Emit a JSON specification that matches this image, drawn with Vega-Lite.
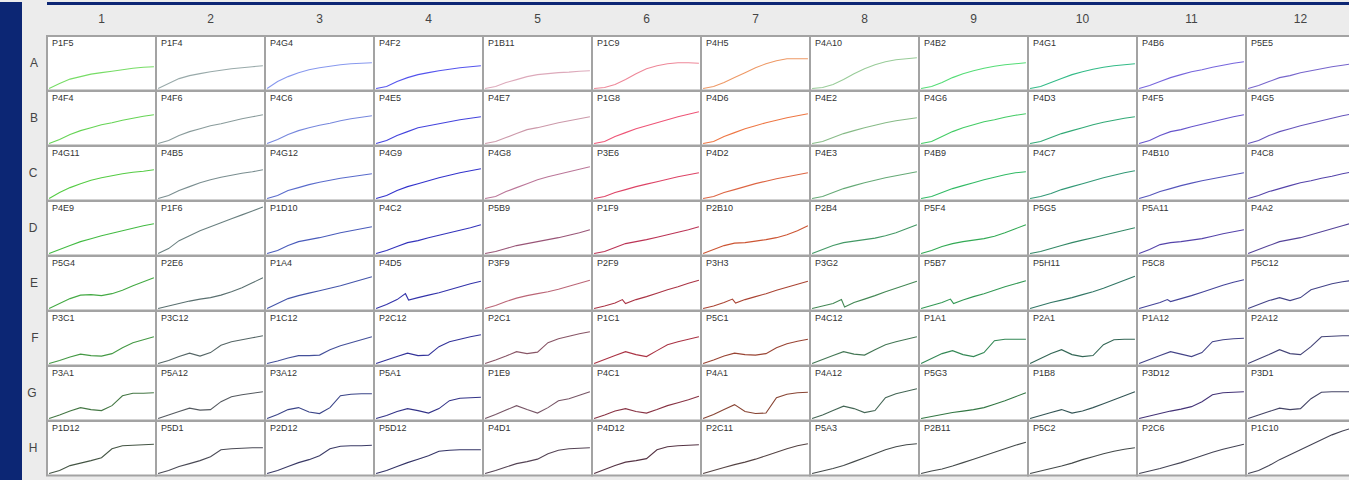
{
"$schema":"https://vega.github.io/schema/vega-lite/v6.json",
"background":"#ececec",
"padding":0,
"spacing":5,
"config":{"view":{"stroke":"#a3a3a3","strokeWidth":2,"fill":"#ffffff"},"font":"Liberation Sans"},
"datasets":{
"wells":[
{"w":"A1","r":"A","c":1,"n":"P1F5"},{"w":"A2","r":"A","c":2,"n":"P1F4"},{"w":"A3","r":"A","c":3,"n":"P4G4"},{"w":"A4","r":"A","c":4,"n":"P4F2"},{"w":"A5","r":"A","c":5,"n":"P1B11"},{"w":"A6","r":"A","c":6,"n":"P1C9"},{"w":"A7","r":"A","c":7,"n":"P4H5"},{"w":"A8","r":"A","c":8,"n":"P4A10"},{"w":"A9","r":"A","c":9,"n":"P4B2"},{"w":"A10","r":"A","c":10,"n":"P4G1"},{"w":"A11","r":"A","c":11,"n":"P4B6"},{"w":"A12","r":"A","c":12,"n":"P5E5"},
{"w":"B1","r":"B","c":1,"n":"P4F4"},{"w":"B2","r":"B","c":2,"n":"P4F6"},{"w":"B3","r":"B","c":3,"n":"P4C6"},{"w":"B4","r":"B","c":4,"n":"P4E5"},{"w":"B5","r":"B","c":5,"n":"P4E7"},{"w":"B6","r":"B","c":6,"n":"P1G8"},{"w":"B7","r":"B","c":7,"n":"P4D6"},{"w":"B8","r":"B","c":8,"n":"P4E2"},{"w":"B9","r":"B","c":9,"n":"P4G6"},{"w":"B10","r":"B","c":10,"n":"P4D3"},{"w":"B11","r":"B","c":11,"n":"P4F5"},{"w":"B12","r":"B","c":12,"n":"P4G5"},
{"w":"C1","r":"C","c":1,"n":"P4G11"},{"w":"C2","r":"C","c":2,"n":"P4B5"},{"w":"C3","r":"C","c":3,"n":"P4G12"},{"w":"C4","r":"C","c":4,"n":"P4G9"},{"w":"C5","r":"C","c":5,"n":"P4G8"},{"w":"C6","r":"C","c":6,"n":"P3E6"},{"w":"C7","r":"C","c":7,"n":"P4D2"},{"w":"C8","r":"C","c":8,"n":"P4E3"},{"w":"C9","r":"C","c":9,"n":"P4B9"},{"w":"C10","r":"C","c":10,"n":"P4C7"},{"w":"C11","r":"C","c":11,"n":"P4B10"},{"w":"C12","r":"C","c":12,"n":"P4C8"},
{"w":"D1","r":"D","c":1,"n":"P4E9"},{"w":"D2","r":"D","c":2,"n":"P1F6"},{"w":"D3","r":"D","c":3,"n":"P1D10"},{"w":"D4","r":"D","c":4,"n":"P4C2"},{"w":"D5","r":"D","c":5,"n":"P5B9"},{"w":"D6","r":"D","c":6,"n":"P1F9"},{"w":"D7","r":"D","c":7,"n":"P2B10"},{"w":"D8","r":"D","c":8,"n":"P2B4"},{"w":"D9","r":"D","c":9,"n":"P5F4"},{"w":"D10","r":"D","c":10,"n":"P5G5"},{"w":"D11","r":"D","c":11,"n":"P5A11"},{"w":"D12","r":"D","c":12,"n":"P4A2"},
{"w":"E1","r":"E","c":1,"n":"P5G4"},{"w":"E2","r":"E","c":2,"n":"P2E6"},{"w":"E3","r":"E","c":3,"n":"P1A4"},{"w":"E4","r":"E","c":4,"n":"P4D5"},{"w":"E5","r":"E","c":5,"n":"P3F9"},{"w":"E6","r":"E","c":6,"n":"P2F9"},{"w":"E7","r":"E","c":7,"n":"P3H3"},{"w":"E8","r":"E","c":8,"n":"P3G2"},{"w":"E9","r":"E","c":9,"n":"P5B7"},{"w":"E10","r":"E","c":10,"n":"P5H11"},{"w":"E11","r":"E","c":11,"n":"P5C8"},{"w":"E12","r":"E","c":12,"n":"P5C12"},
{"w":"F1","r":"F","c":1,"n":"P3C1"},{"w":"F2","r":"F","c":2,"n":"P3C12"},{"w":"F3","r":"F","c":3,"n":"P1C12"},{"w":"F4","r":"F","c":4,"n":"P2C12"},{"w":"F5","r":"F","c":5,"n":"P2C1"},{"w":"F6","r":"F","c":6,"n":"P1C1"},{"w":"F7","r":"F","c":7,"n":"P5C1"},{"w":"F8","r":"F","c":8,"n":"P4C12"},{"w":"F9","r":"F","c":9,"n":"P1A1"},{"w":"F10","r":"F","c":10,"n":"P2A1"},{"w":"F11","r":"F","c":11,"n":"P1A12"},{"w":"F12","r":"F","c":12,"n":"P2A12"},
{"w":"G1","r":"G","c":1,"n":"P3A1"},{"w":"G2","r":"G","c":2,"n":"P5A12"},{"w":"G3","r":"G","c":3,"n":"P3A12"},{"w":"G4","r":"G","c":4,"n":"P5A1"},{"w":"G5","r":"G","c":5,"n":"P1E9"},{"w":"G6","r":"G","c":6,"n":"P4C1"},{"w":"G7","r":"G","c":7,"n":"P4A1"},{"w":"G8","r":"G","c":8,"n":"P4A12"},{"w":"G9","r":"G","c":9,"n":"P5G3"},{"w":"G10","r":"G","c":10,"n":"P1B8"},{"w":"G11","r":"G","c":11,"n":"P3D12"},{"w":"G12","r":"G","c":12,"n":"P3D1"},
{"w":"H1","r":"H","c":1,"n":"P1D12"},{"w":"H2","r":"H","c":2,"n":"P5D1"},{"w":"H3","r":"H","c":3,"n":"P2D12"},{"w":"H4","r":"H","c":4,"n":"P5D12"},{"w":"H5","r":"H","c":5,"n":"P4D1"},{"w":"H6","r":"H","c":6,"n":"P4D12"},{"w":"H7","r":"H","c":7,"n":"P2C11"},{"w":"H8","r":"H","c":8,"n":"P5A3"},{"w":"H9","r":"H","c":9,"n":"P2B11"},{"w":"H10","r":"H","c":10,"n":"P5C2"},{"w":"H11","r":"H","c":11,"n":"P2C6"},{"w":"H12","r":"H","c":12,"n":"P1C10"}
],
"pts":[
{"w":"A1","t":0,"v":1},{"w":"A1","t":1,"v":6},{"w":"A1","t":2,"v":10.5},{"w":"A1","t":3,"v":13},{"w":"A1","t":4,"v":15.5},{"w":"A1","t":5,"v":17},{"w":"A1","t":6,"v":18.5},{"w":"A1","t":7,"v":20},{"w":"A1","t":8,"v":21.5},{"w":"A1","t":9,"v":22.5},{"w":"A1","t":10,"v":23},
{"w":"A2","t":0,"v":1},{"w":"A2","t":1,"v":6},{"w":"A2","t":2,"v":11},{"w":"A2","t":3,"v":14},{"w":"A2","t":4,"v":16},{"w":"A2","t":5,"v":18},{"w":"A2","t":6,"v":19.5},{"w":"A2","t":7,"v":21},{"w":"A2","t":8,"v":22},{"w":"A2","t":9,"v":23},{"w":"A2","t":10,"v":24},
{"w":"A3","t":0,"v":1},{"w":"A3","t":1,"v":8},{"w":"A3","t":2,"v":13},{"w":"A3","t":3,"v":17},{"w":"A3","t":4,"v":20},{"w":"A3","t":5,"v":22},{"w":"A3","t":6,"v":23.5},{"w":"A3","t":7,"v":25},{"w":"A3","t":8,"v":26},{"w":"A3","t":9,"v":26.5},{"w":"A3","t":10,"v":27},
{"w":"A4","t":0,"v":1},{"w":"A4","t":1,"v":3},{"w":"A4","t":2,"v":8},{"w":"A4","t":3,"v":12},{"w":"A4","t":4,"v":15},{"w":"A4","t":5,"v":17},{"w":"A4","t":6,"v":19},{"w":"A4","t":7,"v":20.5},{"w":"A4","t":8,"v":22},{"w":"A4","t":9,"v":23},{"w":"A4","t":10,"v":24},
{"w":"A5","t":0,"v":1},{"w":"A5","t":1,"v":3},{"w":"A5","t":2,"v":7},{"w":"A5","t":3,"v":10},{"w":"A5","t":4,"v":13},{"w":"A5","t":5,"v":15},{"w":"A5","t":6,"v":16},{"w":"A5","t":7,"v":17},{"w":"A5","t":8,"v":17.5},{"w":"A5","t":9,"v":18.5},{"w":"A5","t":10,"v":19},
{"w":"A6","t":0,"v":1},{"w":"A6","t":1,"v":2},{"w":"A6","t":2,"v":5},{"w":"A6","t":3,"v":10},{"w":"A6","t":4,"v":16},{"w":"A6","t":5,"v":21},{"w":"A6","t":6,"v":24},{"w":"A6","t":7,"v":26},{"w":"A6","t":8,"v":27},{"w":"A6","t":9,"v":27},{"w":"A6","t":10,"v":26.5},
{"w":"A7","t":0,"v":1},{"w":"A7","t":1,"v":3},{"w":"A7","t":2,"v":7},{"w":"A7","t":3,"v":12},{"w":"A7","t":4,"v":17},{"w":"A7","t":5,"v":22},{"w":"A7","t":6,"v":26},{"w":"A7","t":7,"v":29},{"w":"A7","t":8,"v":31},{"w":"A7","t":9,"v":31},{"w":"A7","t":10,"v":31},
{"w":"A8","t":0,"v":1},{"w":"A8","t":1,"v":2},{"w":"A8","t":2,"v":5},{"w":"A8","t":3,"v":10},{"w":"A8","t":4,"v":16},{"w":"A8","t":5,"v":21},{"w":"A8","t":6,"v":25},{"w":"A8","t":7,"v":28},{"w":"A8","t":8,"v":30},{"w":"A8","t":9,"v":31},{"w":"A8","t":10,"v":32},
{"w":"A9","t":0,"v":1},{"w":"A9","t":1,"v":3},{"w":"A9","t":2,"v":7},{"w":"A9","t":3,"v":12},{"w":"A9","t":4,"v":16},{"w":"A9","t":5,"v":19},{"w":"A9","t":6,"v":21.5},{"w":"A9","t":7,"v":23.5},{"w":"A9","t":8,"v":25},{"w":"A9","t":9,"v":26},{"w":"A9","t":10,"v":27},
{"w":"A10","t":0,"v":1},{"w":"A10","t":1,"v":3},{"w":"A10","t":2,"v":7},{"w":"A10","t":3,"v":11},{"w":"A10","t":4,"v":15},{"w":"A10","t":5,"v":18},{"w":"A10","t":6,"v":20.5},{"w":"A10","t":7,"v":22.5},{"w":"A10","t":8,"v":24},{"w":"A10","t":9,"v":25},{"w":"A10","t":10,"v":26},
{"w":"A11","t":0,"v":1},{"w":"A11","t":1,"v":4},{"w":"A11","t":2,"v":8},{"w":"A11","t":3,"v":12},{"w":"A11","t":4,"v":15},{"w":"A11","t":5,"v":18},{"w":"A11","t":6,"v":20},{"w":"A11","t":7,"v":22.5},{"w":"A11","t":8,"v":24.5},{"w":"A11","t":9,"v":26.5},{"w":"A11","t":10,"v":28},
{"w":"A12","t":0,"v":1},{"w":"A12","t":1,"v":4},{"w":"A12","t":2,"v":8},{"w":"A12","t":3,"v":12},{"w":"A12","t":4,"v":14},{"w":"A12","t":5,"v":17},{"w":"A12","t":6,"v":19},{"w":"A12","t":7,"v":21},{"w":"A12","t":8,"v":23},{"w":"A12","t":9,"v":24.5},{"w":"A12","t":10,"v":26},
{"w":"B1","t":0,"v":1},{"w":"B1","t":1,"v":5},{"w":"B1","t":2,"v":10},{"w":"B1","t":3,"v":14},{"w":"B1","t":4,"v":17},{"w":"B1","t":5,"v":20},{"w":"B1","t":6,"v":22},{"w":"B1","t":7,"v":24.5},{"w":"B1","t":8,"v":26.5},{"w":"B1","t":9,"v":28.5},{"w":"B1","t":10,"v":30},
{"w":"B2","t":0,"v":1},{"w":"B2","t":1,"v":4},{"w":"B2","t":2,"v":9},{"w":"B2","t":3,"v":13},{"w":"B2","t":4,"v":16},{"w":"B2","t":5,"v":19},{"w":"B2","t":6,"v":21},{"w":"B2","t":7,"v":23.5},{"w":"B2","t":8,"v":26},{"w":"B2","t":9,"v":28},{"w":"B2","t":10,"v":30},
{"w":"B3","t":0,"v":1},{"w":"B3","t":1,"v":5},{"w":"B3","t":2,"v":10},{"w":"B3","t":3,"v":14},{"w":"B3","t":4,"v":17},{"w":"B3","t":5,"v":19.5},{"w":"B3","t":6,"v":21.5},{"w":"B3","t":7,"v":24},{"w":"B3","t":8,"v":26},{"w":"B3","t":9,"v":27.5},{"w":"B3","t":10,"v":29},
{"w":"B4","t":0,"v":1},{"w":"B4","t":1,"v":4},{"w":"B4","t":2,"v":9},{"w":"B4","t":3,"v":13},{"w":"B4","t":4,"v":17},{"w":"B4","t":5,"v":19},{"w":"B4","t":6,"v":21},{"w":"B4","t":7,"v":23},{"w":"B4","t":8,"v":25},{"w":"B4","t":9,"v":26.5},{"w":"B4","t":10,"v":28},
{"w":"B5","t":0,"v":1},{"w":"B5","t":1,"v":3},{"w":"B5","t":2,"v":7},{"w":"B5","t":3,"v":11},{"w":"B5","t":4,"v":15},{"w":"B5","t":5,"v":17},{"w":"B5","t":6,"v":19.5},{"w":"B5","t":7,"v":22},{"w":"B5","t":8,"v":24},{"w":"B5","t":9,"v":26},{"w":"B5","t":10,"v":28},
{"w":"B6","t":0,"v":1},{"w":"B6","t":1,"v":3},{"w":"B6","t":2,"v":8},{"w":"B6","t":3,"v":12},{"w":"B6","t":4,"v":16},{"w":"B6","t":5,"v":19},{"w":"B6","t":6,"v":22},{"w":"B6","t":7,"v":25},{"w":"B6","t":8,"v":28},{"w":"B6","t":9,"v":30.5},{"w":"B6","t":10,"v":33},
{"w":"B7","t":0,"v":1},{"w":"B7","t":1,"v":3},{"w":"B7","t":2,"v":8},{"w":"B7","t":3,"v":12},{"w":"B7","t":4,"v":16},{"w":"B7","t":5,"v":19},{"w":"B7","t":6,"v":22},{"w":"B7","t":7,"v":24.5},{"w":"B7","t":8,"v":27},{"w":"B7","t":9,"v":29},{"w":"B7","t":10,"v":31},
{"w":"B8","t":0,"v":1},{"w":"B8","t":1,"v":3},{"w":"B8","t":2,"v":7},{"w":"B8","t":3,"v":11},{"w":"B8","t":4,"v":14},{"w":"B8","t":5,"v":17},{"w":"B8","t":6,"v":19.5},{"w":"B8","t":7,"v":22},{"w":"B8","t":8,"v":24},{"w":"B8","t":9,"v":25.5},{"w":"B8","t":10,"v":27},
{"w":"B9","t":0,"v":1},{"w":"B9","t":1,"v":3},{"w":"B9","t":2,"v":8},{"w":"B9","t":3,"v":13},{"w":"B9","t":4,"v":17},{"w":"B9","t":5,"v":20},{"w":"B9","t":6,"v":23},{"w":"B9","t":7,"v":25},{"w":"B9","t":8,"v":27.5},{"w":"B9","t":9,"v":29.5},{"w":"B9","t":10,"v":31},
{"w":"B10","t":0,"v":1},{"w":"B10","t":1,"v":3},{"w":"B10","t":2,"v":7},{"w":"B10","t":3,"v":11},{"w":"B10","t":4,"v":14},{"w":"B10","t":5,"v":17},{"w":"B10","t":6,"v":20},{"w":"B10","t":7,"v":22.5},{"w":"B10","t":8,"v":24.5},{"w":"B10","t":9,"v":26.5},{"w":"B10","t":10,"v":28},
{"w":"B11","t":0,"v":1},{"w":"B11","t":1,"v":4},{"w":"B11","t":2,"v":9},{"w":"B11","t":3,"v":13},{"w":"B11","t":4,"v":15},{"w":"B11","t":5,"v":18},{"w":"B11","t":6,"v":20.5},{"w":"B11","t":7,"v":23},{"w":"B11","t":8,"v":25.5},{"w":"B11","t":9,"v":28},{"w":"B11","t":10,"v":30},
{"w":"B12","t":0,"v":1},{"w":"B12","t":1,"v":4},{"w":"B12","t":2,"v":9},{"w":"B12","t":3,"v":13},{"w":"B12","t":4,"v":16},{"w":"B12","t":5,"v":19},{"w":"B12","t":6,"v":21.5},{"w":"B12","t":7,"v":24},{"w":"B12","t":8,"v":26.5},{"w":"B12","t":9,"v":29},{"w":"B12","t":10,"v":31},
{"w":"C1","t":0,"v":1},{"w":"C1","t":1,"v":7},{"w":"C1","t":2,"v":12},{"w":"C1","t":3,"v":16},{"w":"C1","t":4,"v":19.5},{"w":"C1","t":5,"v":22},{"w":"C1","t":6,"v":24},{"w":"C1","t":7,"v":26},{"w":"C1","t":8,"v":27.5},{"w":"C1","t":9,"v":28.5},{"w":"C1","t":10,"v":30},
{"w":"C2","t":0,"v":1},{"w":"C2","t":1,"v":4},{"w":"C2","t":2,"v":9},{"w":"C2","t":3,"v":13},{"w":"C2","t":4,"v":17},{"w":"C2","t":5,"v":20},{"w":"C2","t":6,"v":22.5},{"w":"C2","t":7,"v":24.5},{"w":"C2","t":8,"v":26.5},{"w":"C2","t":9,"v":28},{"w":"C2","t":10,"v":30},
{"w":"C3","t":0,"v":1},{"w":"C3","t":1,"v":4},{"w":"C3","t":2,"v":9},{"w":"C3","t":3,"v":12},{"w":"C3","t":4,"v":15},{"w":"C3","t":5,"v":17.5},{"w":"C3","t":6,"v":19.5},{"w":"C3","t":7,"v":21.5},{"w":"C3","t":8,"v":23},{"w":"C3","t":9,"v":24.5},{"w":"C3","t":10,"v":26},
{"w":"C4","t":0,"v":1},{"w":"C4","t":1,"v":4},{"w":"C4","t":2,"v":9},{"w":"C4","t":3,"v":13},{"w":"C4","t":4,"v":16},{"w":"C4","t":5,"v":19},{"w":"C4","t":6,"v":22},{"w":"C4","t":7,"v":24.5},{"w":"C4","t":8,"v":27},{"w":"C4","t":9,"v":29},{"w":"C4","t":10,"v":31},
{"w":"C5","t":0,"v":1},{"w":"C5","t":1,"v":3},{"w":"C5","t":2,"v":8},{"w":"C5","t":3,"v":12},{"w":"C5","t":4,"v":16},{"w":"C5","t":5,"v":20},{"w":"C5","t":6,"v":23},{"w":"C5","t":7,"v":25.5},{"w":"C5","t":8,"v":28},{"w":"C5","t":9,"v":30.5},{"w":"C5","t":10,"v":33},
{"w":"C6","t":0,"v":1},{"w":"C6","t":1,"v":3},{"w":"C6","t":2,"v":7},{"w":"C6","t":3,"v":10},{"w":"C6","t":4,"v":13},{"w":"C6","t":5,"v":15.5},{"w":"C6","t":6,"v":18},{"w":"C6","t":7,"v":20.5},{"w":"C6","t":8,"v":23},{"w":"C6","t":9,"v":25},{"w":"C6","t":10,"v":27},
{"w":"C7","t":0,"v":1},{"w":"C7","t":1,"v":3},{"w":"C7","t":2,"v":7},{"w":"C7","t":3,"v":10},{"w":"C7","t":4,"v":13},{"w":"C7","t":5,"v":16},{"w":"C7","t":6,"v":18.5},{"w":"C7","t":7,"v":21},{"w":"C7","t":8,"v":23},{"w":"C7","t":9,"v":25},{"w":"C7","t":10,"v":27},
{"w":"C8","t":0,"v":1},{"w":"C8","t":1,"v":3},{"w":"C8","t":2,"v":7},{"w":"C8","t":3,"v":11},{"w":"C8","t":4,"v":14},{"w":"C8","t":5,"v":17},{"w":"C8","t":6,"v":19.5},{"w":"C8","t":7,"v":22},{"w":"C8","t":8,"v":24},{"w":"C8","t":9,"v":26},{"w":"C8","t":10,"v":28},
{"w":"C9","t":0,"v":1},{"w":"C9","t":1,"v":3},{"w":"C9","t":2,"v":7},{"w":"C9","t":3,"v":11},{"w":"C9","t":4,"v":14},{"w":"C9","t":5,"v":17},{"w":"C9","t":6,"v":20},{"w":"C9","t":7,"v":22.5},{"w":"C9","t":8,"v":25},{"w":"C9","t":9,"v":27},{"w":"C9","t":10,"v":28},
{"w":"C10","t":0,"v":1},{"w":"C10","t":1,"v":3},{"w":"C10","t":2,"v":6},{"w":"C10","t":3,"v":10},{"w":"C10","t":4,"v":13},{"w":"C10","t":5,"v":16},{"w":"C10","t":6,"v":19},{"w":"C10","t":7,"v":22},{"w":"C10","t":8,"v":24.5},{"w":"C10","t":9,"v":27},{"w":"C10","t":10,"v":29},
{"w":"C11","t":0,"v":1},{"w":"C11","t":1,"v":4},{"w":"C11","t":2,"v":8},{"w":"C11","t":3,"v":11},{"w":"C11","t":4,"v":14},{"w":"C11","t":5,"v":16.5},{"w":"C11","t":6,"v":19},{"w":"C11","t":7,"v":21},{"w":"C11","t":8,"v":23},{"w":"C11","t":9,"v":25},{"w":"C11","t":10,"v":27},
{"w":"C12","t":0,"v":1},{"w":"C12","t":1,"v":4},{"w":"C12","t":2,"v":8},{"w":"C12","t":3,"v":11},{"w":"C12","t":4,"v":14},{"w":"C12","t":5,"v":17},{"w":"C12","t":6,"v":19},{"w":"C12","t":7,"v":21.5},{"w":"C12","t":8,"v":23.5},{"w":"C12","t":9,"v":26},{"w":"C12","t":10,"v":28},
{"w":"D1","t":0,"v":1},{"w":"D1","t":1,"v":5},{"w":"D1","t":2,"v":9},{"w":"D1","t":3,"v":13},{"w":"D1","t":4,"v":16},{"w":"D1","t":5,"v":19},{"w":"D1","t":6,"v":21.5},{"w":"D1","t":7,"v":24},{"w":"D1","t":8,"v":26.5},{"w":"D1","t":9,"v":29},{"w":"D1","t":10,"v":31},
{"w":"D2","t":0,"v":1},{"w":"D2","t":1,"v":6},{"w":"D2","t":2,"v":14},{"w":"D2","t":3,"v":19},{"w":"D2","t":4,"v":24},{"w":"D2","t":5,"v":28},{"w":"D2","t":6,"v":32},{"w":"D2","t":7,"v":36},{"w":"D2","t":8,"v":40},{"w":"D2","t":9,"v":44},{"w":"D2","t":10,"v":48},
{"w":"D3","t":0,"v":1},{"w":"D3","t":1,"v":4},{"w":"D3","t":2,"v":9},{"w":"D3","t":3,"v":13},{"w":"D3","t":4,"v":15},{"w":"D3","t":5,"v":17},{"w":"D3","t":6,"v":19.5},{"w":"D3","t":7,"v":22},{"w":"D3","t":8,"v":24},{"w":"D3","t":9,"v":26},{"w":"D3","t":10,"v":28},
{"w":"D4","t":0,"v":1},{"w":"D4","t":1,"v":4},{"w":"D4","t":2,"v":8},{"w":"D4","t":3,"v":12},{"w":"D4","t":4,"v":14},{"w":"D4","t":5,"v":17},{"w":"D4","t":6,"v":19.5},{"w":"D4","t":7,"v":22},{"w":"D4","t":8,"v":24.5},{"w":"D4","t":9,"v":27},{"w":"D4","t":10,"v":30},
{"w":"D5","t":0,"v":1},{"w":"D5","t":1,"v":3},{"w":"D5","t":2,"v":6},{"w":"D5","t":3,"v":9},{"w":"D5","t":4,"v":11},{"w":"D5","t":5,"v":13},{"w":"D5","t":6,"v":15},{"w":"D5","t":7,"v":17},{"w":"D5","t":8,"v":19.5},{"w":"D5","t":9,"v":22},{"w":"D5","t":10,"v":25},
{"w":"D6","t":0,"v":1},{"w":"D6","t":1,"v":3},{"w":"D6","t":2,"v":7},{"w":"D6","t":3,"v":11},{"w":"D6","t":4,"v":13},{"w":"D6","t":5,"v":15},{"w":"D6","t":6,"v":17.5},{"w":"D6","t":7,"v":20},{"w":"D6","t":8,"v":22.5},{"w":"D6","t":9,"v":25},{"w":"D6","t":10,"v":28},
{"w":"D7","t":0,"v":1},{"w":"D7","t":1,"v":5},{"w":"D7","t":2,"v":9},{"w":"D7","t":3,"v":11.5},{"w":"D7","t":4,"v":12},{"w":"D7","t":5,"v":13.5},{"w":"D7","t":6,"v":15},{"w":"D7","t":7,"v":17},{"w":"D7","t":8,"v":20},{"w":"D7","t":9,"v":24},{"w":"D7","t":10,"v":29},
{"w":"D8","t":0,"v":1},{"w":"D8","t":1,"v":5},{"w":"D8","t":2,"v":9},{"w":"D8","t":3,"v":12},{"w":"D8","t":4,"v":13.5},{"w":"D8","t":5,"v":15},{"w":"D8","t":6,"v":16.5},{"w":"D8","t":7,"v":19},{"w":"D8","t":8,"v":22},{"w":"D8","t":9,"v":26},{"w":"D8","t":10,"v":30},
{"w":"D9","t":0,"v":1},{"w":"D9","t":1,"v":4},{"w":"D9","t":2,"v":8},{"w":"D9","t":3,"v":11},{"w":"D9","t":4,"v":13},{"w":"D9","t":5,"v":14.5},{"w":"D9","t":6,"v":16},{"w":"D9","t":7,"v":18.5},{"w":"D9","t":8,"v":22},{"w":"D9","t":9,"v":26},{"w":"D9","t":10,"v":30},
{"w":"D10","t":0,"v":1},{"w":"D10","t":1,"v":3},{"w":"D10","t":2,"v":6},{"w":"D10","t":3,"v":9},{"w":"D10","t":4,"v":12},{"w":"D10","t":5,"v":14.5},{"w":"D10","t":6,"v":17},{"w":"D10","t":7,"v":19.5},{"w":"D10","t":8,"v":22},{"w":"D10","t":9,"v":24.5},{"w":"D10","t":10,"v":27},
{"w":"D11","t":0,"v":1},{"w":"D11","t":1,"v":5},{"w":"D11","t":2,"v":10},{"w":"D11","t":3,"v":12},{"w":"D11","t":4,"v":13},{"w":"D11","t":5,"v":14.5},{"w":"D11","t":6,"v":16},{"w":"D11","t":7,"v":18.5},{"w":"D11","t":8,"v":21},{"w":"D11","t":9,"v":23},{"w":"D11","t":10,"v":25},
{"w":"D12","t":0,"v":1},{"w":"D12","t":1,"v":5},{"w":"D12","t":2,"v":9},{"w":"D12","t":3,"v":13},{"w":"D12","t":4,"v":15},{"w":"D12","t":5,"v":17},{"w":"D12","t":6,"v":20},{"w":"D12","t":7,"v":23},{"w":"D12","t":8,"v":26},{"w":"D12","t":9,"v":29},{"w":"D12","t":10,"v":32},
{"w":"E1","t":0,"v":1},{"w":"E1","t":1,"v":6},{"w":"E1","t":2,"v":11},{"w":"E1","t":3,"v":14.5},{"w":"E1","t":4,"v":15},{"w":"E1","t":5,"v":14},{"w":"E1","t":6,"v":16},{"w":"E1","t":7,"v":19.5},{"w":"E1","t":8,"v":24},{"w":"E1","t":9,"v":28},{"w":"E1","t":10,"v":32},
{"w":"E2","t":0,"v":1},{"w":"E2","t":1,"v":3.5},{"w":"E2","t":2,"v":6},{"w":"E2","t":3,"v":8.5},{"w":"E2","t":4,"v":10.5},{"w":"E2","t":5,"v":12},{"w":"E2","t":6,"v":14.5},{"w":"E2","t":7,"v":18},{"w":"E2","t":8,"v":22},{"w":"E2","t":9,"v":27},{"w":"E2","t":10,"v":32},
{"w":"E3","t":0,"v":1},{"w":"E3","t":1,"v":6},{"w":"E3","t":2,"v":11},{"w":"E3","t":3,"v":14},{"w":"E3","t":4,"v":16.5},{"w":"E3","t":5,"v":19},{"w":"E3","t":6,"v":21.5},{"w":"E3","t":7,"v":24},{"w":"E3","t":8,"v":27},{"w":"E3","t":9,"v":30},{"w":"E3","t":10,"v":33},
{"w":"E4","t":0,"v":1},{"w":"E4","t":1,"v":5},{"w":"E4","t":2,"v":10},{"w":"E4","t":2.8,"v":16},{"w":"E4","t":3.1,"v":9.5},{"w":"E4","t":4,"v":12},{"w":"E4","t":5,"v":14.5},{"w":"E4","t":6,"v":17},{"w":"E4","t":7,"v":20},{"w":"E4","t":8,"v":23},{"w":"E4","t":9,"v":26},{"w":"E4","t":10,"v":28.5},
{"w":"E5","t":0,"v":1},{"w":"E5","t":1,"v":4},{"w":"E5","t":2,"v":8},{"w":"E5","t":3,"v":11.5},{"w":"E5","t":4,"v":14},{"w":"E5","t":5,"v":16},{"w":"E5","t":6,"v":18},{"w":"E5","t":7,"v":20.5},{"w":"E5","t":8,"v":23.5},{"w":"E5","t":9,"v":26.5},{"w":"E5","t":10,"v":29.5},
{"w":"E6","t":0,"v":1},{"w":"E6","t":1,"v":3.5},{"w":"E6","t":2,"v":6.5},{"w":"E6","t":2.7,"v":10},{"w":"E6","t":3,"v":6},{"w":"E6","t":4,"v":10},{"w":"E6","t":5,"v":13},{"w":"E6","t":6,"v":16.5},{"w":"E6","t":7,"v":20},{"w":"E6","t":8,"v":23},{"w":"E6","t":9,"v":26.5},{"w":"E6","t":10,"v":29.5},
{"w":"E7","t":0,"v":1},{"w":"E7","t":1,"v":3.5},{"w":"E7","t":2,"v":7},{"w":"E7","t":2.8,"v":10.5},{"w":"E7","t":3.1,"v":6.5},{"w":"E7","t":4,"v":10},{"w":"E7","t":5,"v":13},{"w":"E7","t":6,"v":16},{"w":"E7","t":7,"v":19.5},{"w":"E7","t":8,"v":22.5},{"w":"E7","t":9,"v":25.5},{"w":"E7","t":10,"v":28.5},
{"w":"E8","t":0,"v":1},{"w":"E8","t":1,"v":3.5},{"w":"E8","t":2,"v":6},{"w":"E8","t":2.8,"v":10},{"w":"E8","t":3.1,"v":2.5},{"w":"E8","t":4,"v":7},{"w":"E8","t":5,"v":10.5},{"w":"E8","t":6,"v":14},{"w":"E8","t":7,"v":18},{"w":"E8","t":8,"v":21.5},{"w":"E8","t":9,"v":25},{"w":"E8","t":10,"v":28.5},
{"w":"E9","t":0,"v":1},{"w":"E9","t":1,"v":4},{"w":"E9","t":2,"v":7},{"w":"E9","t":2.8,"v":10.5},{"w":"E9","t":3.1,"v":6},{"w":"E9","t":4,"v":9.5},{"w":"E9","t":5,"v":13},{"w":"E9","t":6,"v":16},{"w":"E9","t":7,"v":19.5},{"w":"E9","t":8,"v":23},{"w":"E9","t":9,"v":26},{"w":"E9","t":10,"v":29},
{"w":"E10","t":0,"v":1},{"w":"E10","t":1,"v":4},{"w":"E10","t":2,"v":7},{"w":"E10","t":3,"v":9.5},{"w":"E10","t":4,"v":12},{"w":"E10","t":5,"v":15},{"w":"E10","t":6,"v":18},{"w":"E10","t":7,"v":21.5},{"w":"E10","t":8,"v":25.5},{"w":"E10","t":9,"v":29.5},{"w":"E10","t":10,"v":33.5},
{"w":"E11","t":0,"v":1},{"w":"E11","t":1,"v":4},{"w":"E11","t":2,"v":7},{"w":"E11","t":2.7,"v":10},{"w":"E11","t":3,"v":8},{"w":"E11","t":4,"v":11},{"w":"E11","t":5,"v":14},{"w":"E11","t":6,"v":17.5},{"w":"E11","t":7,"v":21},{"w":"E11","t":8,"v":24.5},{"w":"E11","t":9,"v":27.5},{"w":"E11","t":10,"v":30},
{"w":"E12","t":0,"v":1},{"w":"E12","t":1,"v":5},{"w":"E12","t":2,"v":9},{"w":"E12","t":3,"v":12},{"w":"E12","t":4,"v":9},{"w":"E12","t":5,"v":12},{"w":"E12","t":6,"v":20},{"w":"E12","t":7,"v":23},{"w":"E12","t":8,"v":26},{"w":"E12","t":9,"v":28},{"w":"E12","t":10,"v":29.5},
{"w":"F1","t":0,"v":1},{"w":"F1","t":1,"v":4},{"w":"F1","t":2,"v":7.5},{"w":"F1","t":3,"v":10.5},{"w":"F1","t":4,"v":9},{"w":"F1","t":5,"v":8.5},{"w":"F1","t":6,"v":11},{"w":"F1","t":7,"v":17},{"w":"F1","t":8,"v":22},{"w":"F1","t":9,"v":25},{"w":"F1","t":10,"v":28},
{"w":"F2","t":0,"v":1},{"w":"F2","t":1,"v":4},{"w":"F2","t":2,"v":8},{"w":"F2","t":3,"v":11.5},{"w":"F2","t":4,"v":8.5},{"w":"F2","t":5,"v":12},{"w":"F2","t":6,"v":19.5},{"w":"F2","t":7,"v":23},{"w":"F2","t":8,"v":25},{"w":"F2","t":9,"v":27},{"w":"F2","t":10,"v":29},
{"w":"F3","t":0,"v":1},{"w":"F3","t":1,"v":3.5},{"w":"F3","t":2,"v":6.5},{"w":"F3","t":3,"v":9},{"w":"F3","t":4,"v":9},{"w":"F3","t":5,"v":9.5},{"w":"F3","t":6,"v":15},{"w":"F3","t":7,"v":19},{"w":"F3","t":8,"v":22},{"w":"F3","t":9,"v":25},{"w":"F3","t":10,"v":28},
{"w":"F4","t":0,"v":1},{"w":"F4","t":1,"v":4.5},{"w":"F4","t":2,"v":8},{"w":"F4","t":3,"v":11.5},{"w":"F4","t":4,"v":9},{"w":"F4","t":5,"v":9.5},{"w":"F4","t":6,"v":18},{"w":"F4","t":7,"v":23},{"w":"F4","t":8,"v":25.5},{"w":"F4","t":9,"v":28},{"w":"F4","t":10,"v":30},
{"w":"F5","t":0,"v":1},{"w":"F5","t":1,"v":4.5},{"w":"F5","t":2,"v":8.5},{"w":"F5","t":3,"v":13},{"w":"F5","t":4,"v":11},{"w":"F5","t":5,"v":12.5},{"w":"F5","t":6,"v":22},{"w":"F5","t":7,"v":26},{"w":"F5","t":8,"v":28.5},{"w":"F5","t":9,"v":31},{"w":"F5","t":10,"v":33},
{"w":"F6","t":0,"v":1},{"w":"F6","t":1,"v":5},{"w":"F6","t":2,"v":9},{"w":"F6","t":3,"v":13},{"w":"F6","t":4,"v":10},{"w":"F6","t":5,"v":8},{"w":"F6","t":6,"v":14},{"w":"F6","t":7,"v":20},{"w":"F6","t":8,"v":23},{"w":"F6","t":9,"v":25.5},{"w":"F6","t":10,"v":28},
{"w":"F7","t":0,"v":1},{"w":"F7","t":1,"v":4.5},{"w":"F7","t":2,"v":8.5},{"w":"F7","t":3,"v":11.5},{"w":"F7","t":4,"v":10},{"w":"F7","t":5,"v":9.5},{"w":"F7","t":6,"v":11},{"w":"F7","t":7,"v":17},{"w":"F7","t":8,"v":21},{"w":"F7","t":9,"v":23.5},{"w":"F7","t":10,"v":25.5},
{"w":"F8","t":0,"v":1},{"w":"F8","t":1,"v":5},{"w":"F8","t":2,"v":9},{"w":"F8","t":3,"v":13},{"w":"F8","t":4,"v":10.5},{"w":"F8","t":5,"v":9.5},{"w":"F8","t":6,"v":15},{"w":"F8","t":7,"v":20},{"w":"F8","t":8,"v":23},{"w":"F8","t":9,"v":25.5},{"w":"F8","t":10,"v":28},
{"w":"F9","t":0,"v":1},{"w":"F9","t":1,"v":6},{"w":"F9","t":2,"v":11},{"w":"F9","t":3,"v":14},{"w":"F9","t":4,"v":10},{"w":"F9","t":5,"v":8},{"w":"F9","t":6,"v":12},{"w":"F9","t":7,"v":24},{"w":"F9","t":8,"v":25.5},{"w":"F9","t":9,"v":25.5},{"w":"F9","t":10,"v":25.5},
{"w":"F10","t":0,"v":1},{"w":"F10","t":1,"v":6},{"w":"F10","t":2,"v":11},{"w":"F10","t":3,"v":15},{"w":"F10","t":4,"v":10},{"w":"F10","t":5,"v":8},{"w":"F10","t":6,"v":9},{"w":"F10","t":7,"v":20},{"w":"F10","t":8,"v":25},{"w":"F10","t":9,"v":25.5},{"w":"F10","t":10,"v":25.5},
{"w":"F11","t":0,"v":1},{"w":"F11","t":1,"v":5},{"w":"F11","t":2,"v":9},{"w":"F11","t":3,"v":13},{"w":"F11","t":4,"v":10.5},{"w":"F11","t":5,"v":8},{"w":"F11","t":6,"v":12},{"w":"F11","t":7,"v":23},{"w":"F11","t":8,"v":25},{"w":"F11","t":9,"v":26},{"w":"F11","t":10,"v":26.5},
{"w":"F12","t":0,"v":1},{"w":"F12","t":1,"v":5.5},{"w":"F12","t":2,"v":10},{"w":"F12","t":3,"v":15},{"w":"F12","t":4,"v":11},{"w":"F12","t":5,"v":10},{"w":"F12","t":6,"v":18},{"w":"F12","t":7,"v":28},{"w":"F12","t":8,"v":28.5},{"w":"F12","t":9,"v":29},{"w":"F12","t":10,"v":29},
{"w":"G1","t":0,"v":1},{"w":"G1","t":1,"v":4.5},{"w":"G1","t":2,"v":8.5},{"w":"G1","t":3,"v":12},{"w":"G1","t":4,"v":10},{"w":"G1","t":5,"v":9},{"w":"G1","t":6,"v":14},{"w":"G1","t":7,"v":24},{"w":"G1","t":8,"v":26.5},{"w":"G1","t":9,"v":26.5},{"w":"G1","t":10,"v":27},
{"w":"G2","t":0,"v":1},{"w":"G2","t":1,"v":4.5},{"w":"G2","t":2,"v":8},{"w":"G2","t":3,"v":11.5},{"w":"G2","t":4,"v":9.5},{"w":"G2","t":5,"v":10},{"w":"G2","t":6,"v":18},{"w":"G2","t":7,"v":23},{"w":"G2","t":8,"v":25},{"w":"G2","t":9,"v":26.5},{"w":"G2","t":10,"v":28},
{"w":"G3","t":0,"v":1},{"w":"G3","t":1,"v":5},{"w":"G3","t":2,"v":10},{"w":"G3","t":3,"v":12},{"w":"G3","t":4,"v":7.5},{"w":"G3","t":5,"v":6},{"w":"G3","t":6,"v":12},{"w":"G3","t":7,"v":24},{"w":"G3","t":8,"v":25.5},{"w":"G3","t":9,"v":26},{"w":"G3","t":10,"v":26},
{"w":"G4","t":0,"v":1},{"w":"G4","t":1,"v":4},{"w":"G4","t":2,"v":8},{"w":"G4","t":3,"v":11},{"w":"G4","t":4,"v":9},{"w":"G4","t":5,"v":6.5},{"w":"G4","t":6,"v":11},{"w":"G4","t":7,"v":19},{"w":"G4","t":8,"v":21.5},{"w":"G4","t":9,"v":22},{"w":"G4","t":10,"v":22.5},
{"w":"G5","t":0,"v":1},{"w":"G5","t":1,"v":5},{"w":"G5","t":2,"v":9.5},{"w":"G5","t":3,"v":14},{"w":"G5","t":4,"v":10},{"w":"G5","t":5,"v":6.5},{"w":"G5","t":6,"v":12},{"w":"G5","t":7,"v":19},{"w":"G5","t":8,"v":21},{"w":"G5","t":9,"v":24.5},{"w":"G5","t":10,"v":28},
{"w":"G6","t":0,"v":1},{"w":"G6","t":1,"v":4.5},{"w":"G6","t":2,"v":8.5},{"w":"G6","t":3,"v":11},{"w":"G6","t":4,"v":8},{"w":"G6","t":5,"v":6.5},{"w":"G6","t":6,"v":10},{"w":"G6","t":7,"v":14},{"w":"G6","t":8,"v":17},{"w":"G6","t":9,"v":20},{"w":"G6","t":10,"v":23.5},
{"w":"G7","t":0,"v":1},{"w":"G7","t":1,"v":5},{"w":"G7","t":2,"v":10},{"w":"G7","t":3,"v":15},{"w":"G7","t":4,"v":8},{"w":"G7","t":5,"v":6},{"w":"G7","t":6,"v":6.5},{"w":"G7","t":7,"v":22},{"w":"G7","t":8,"v":25.5},{"w":"G7","t":9,"v":27},{"w":"G7","t":10,"v":27.5},
{"w":"G8","t":0,"v":1},{"w":"G8","t":1,"v":4.5},{"w":"G8","t":2,"v":9},{"w":"G8","t":3,"v":13.5},{"w":"G8","t":4,"v":11},{"w":"G8","t":5,"v":7},{"w":"G8","t":6,"v":9},{"w":"G8","t":7,"v":22},{"w":"G8","t":8,"v":26},{"w":"G8","t":9,"v":28.5},{"w":"G8","t":10,"v":31},
{"w":"G9","t":0,"v":1},{"w":"G9","t":1,"v":3},{"w":"G9","t":2,"v":5},{"w":"G9","t":3,"v":7},{"w":"G9","t":4,"v":8.5},{"w":"G9","t":5,"v":10},{"w":"G9","t":6,"v":12},{"w":"G9","t":7,"v":15.5},{"w":"G9","t":8,"v":19},{"w":"G9","t":9,"v":23},{"w":"G9","t":10,"v":27},
{"w":"G10","t":0,"v":1},{"w":"G10","t":1,"v":4},{"w":"G10","t":2,"v":7},{"w":"G10","t":3,"v":10},{"w":"G10","t":4,"v":6.5},{"w":"G10","t":5,"v":8.5},{"w":"G10","t":6,"v":12},{"w":"G10","t":7,"v":16},{"w":"G10","t":8,"v":20},{"w":"G10","t":9,"v":24},{"w":"G10","t":10,"v":28},
{"w":"G11","t":0,"v":1},{"w":"G11","t":1,"v":3.5},{"w":"G11","t":2,"v":6},{"w":"G11","t":3,"v":8.5},{"w":"G11","t":4,"v":10.5},{"w":"G11","t":5,"v":13},{"w":"G11","t":6,"v":18},{"w":"G11","t":7,"v":25},{"w":"G11","t":8,"v":27},{"w":"G11","t":9,"v":27.5},{"w":"G11","t":10,"v":28},
{"w":"G12","t":0,"v":1},{"w":"G12","t":1,"v":4.5},{"w":"G12","t":2,"v":8},{"w":"G12","t":3,"v":11.5},{"w":"G12","t":4,"v":10},{"w":"G12","t":5,"v":11},{"w":"G12","t":6,"v":21},{"w":"G12","t":7,"v":27.5},{"w":"G12","t":8,"v":28},{"w":"G12","t":9,"v":28},{"w":"G12","t":10,"v":28},
{"w":"H1","t":0,"v":1},{"w":"H1","t":1,"v":4},{"w":"H1","t":2,"v":9},{"w":"H1","t":3,"v":11.5},{"w":"H1","t":4,"v":14},{"w":"H1","t":5,"v":17},{"w":"H1","t":6,"v":26},{"w":"H1","t":7,"v":29},{"w":"H1","t":8,"v":29.5},{"w":"H1","t":9,"v":30},{"w":"H1","t":10,"v":30.5},
{"w":"H2","t":0,"v":1},{"w":"H2","t":1,"v":4},{"w":"H2","t":2,"v":8},{"w":"H2","t":3,"v":11},{"w":"H2","t":4,"v":14},{"w":"H2","t":5,"v":18},{"w":"H2","t":6,"v":25},{"w":"H2","t":7,"v":26},{"w":"H2","t":8,"v":26.5},{"w":"H2","t":9,"v":27},{"w":"H2","t":10,"v":27},
{"w":"H3","t":0,"v":1},{"w":"H3","t":1,"v":4},{"w":"H3","t":2,"v":8},{"w":"H3","t":3,"v":12},{"w":"H3","t":4,"v":15},{"w":"H3","t":5,"v":19},{"w":"H3","t":6,"v":26},{"w":"H3","t":7,"v":28.5},{"w":"H3","t":8,"v":29},{"w":"H3","t":9,"v":29},{"w":"H3","t":10,"v":29.5},
{"w":"H4","t":0,"v":1},{"w":"H4","t":1,"v":4},{"w":"H4","t":2,"v":8},{"w":"H4","t":3,"v":12},{"w":"H4","t":4,"v":15.5},{"w":"H4","t":5,"v":19},{"w":"H4","t":6,"v":23.5},{"w":"H4","t":7,"v":24.5},{"w":"H4","t":8,"v":25},{"w":"H4","t":9,"v":25},{"w":"H4","t":10,"v":25},
{"w":"H5","t":0,"v":1},{"w":"H5","t":1,"v":4},{"w":"H5","t":2,"v":7.5},{"w":"H5","t":3,"v":11},{"w":"H5","t":4,"v":13},{"w":"H5","t":5,"v":15.5},{"w":"H5","t":6,"v":21},{"w":"H5","t":7,"v":24.5},{"w":"H5","t":8,"v":26},{"w":"H5","t":9,"v":26.5},{"w":"H5","t":10,"v":27},
{"w":"H6","t":0,"v":1},{"w":"H6","t":1,"v":5},{"w":"H6","t":2,"v":9},{"w":"H6","t":3,"v":12.5},{"w":"H6","t":4,"v":14},{"w":"H6","t":5,"v":16},{"w":"H6","t":6,"v":25},{"w":"H6","t":7,"v":28},{"w":"H6","t":8,"v":29},{"w":"H6","t":9,"v":29.5},{"w":"H6","t":10,"v":30},
{"w":"H7","t":0,"v":1},{"w":"H7","t":1,"v":4},{"w":"H7","t":2,"v":7},{"w":"H7","t":3,"v":10},{"w":"H7","t":4,"v":12.5},{"w":"H7","t":5,"v":15.5},{"w":"H7","t":6,"v":19},{"w":"H7","t":7,"v":22.5},{"w":"H7","t":8,"v":26},{"w":"H7","t":9,"v":29},{"w":"H7","t":10,"v":31},
{"w":"H8","t":0,"v":1},{"w":"H8","t":1,"v":3.5},{"w":"H8","t":2,"v":6},{"w":"H8","t":3,"v":9},{"w":"H8","t":4,"v":13},{"w":"H8","t":5,"v":17},{"w":"H8","t":6,"v":21},{"w":"H8","t":7,"v":25},{"w":"H8","t":8,"v":28},{"w":"H8","t":9,"v":30},{"w":"H8","t":10,"v":31},
{"w":"H9","t":0,"v":1},{"w":"H9","t":1,"v":3.5},{"w":"H9","t":2,"v":5.5},{"w":"H9","t":3,"v":8.5},{"w":"H9","t":4,"v":12},{"w":"H9","t":5,"v":15.5},{"w":"H9","t":6,"v":19},{"w":"H9","t":7,"v":22.5},{"w":"H9","t":8,"v":26},{"w":"H9","t":9,"v":29.5},{"w":"H9","t":10,"v":32.5},
{"w":"H10","t":0,"v":1},{"w":"H10","t":1,"v":3.5},{"w":"H10","t":2,"v":6},{"w":"H10","t":3,"v":8.5},{"w":"H10","t":4,"v":11.5},{"w":"H10","t":5,"v":15},{"w":"H10","t":6,"v":18},{"w":"H10","t":7,"v":21},{"w":"H10","t":8,"v":23.5},{"w":"H10","t":9,"v":25.5},{"w":"H10","t":10,"v":27},
{"w":"H11","t":0,"v":1},{"w":"H11","t":1,"v":3.5},{"w":"H11","t":2,"v":6},{"w":"H11","t":3,"v":9},{"w":"H11","t":4,"v":12},{"w":"H11","t":5,"v":15.5},{"w":"H11","t":6,"v":19},{"w":"H11","t":7,"v":22.5},{"w":"H11","t":8,"v":25.5},{"w":"H11","t":9,"v":28},{"w":"H11","t":10,"v":30.5},
{"w":"H12","t":0,"v":1},{"w":"H12","t":1,"v":4},{"w":"H12","t":2,"v":9},{"w":"H12","t":3,"v":15},{"w":"H12","t":4,"v":20},{"w":"H12","t":5,"v":25},{"w":"H12","t":6,"v":30},{"w":"H12","t":7,"v":35},{"w":"H12","t":8,"v":40},{"w":"H12","t":9,"v":44},{"w":"H12","t":10,"v":47}
]},
"hconcat":[
 {"width":22,"height":480,"data":{"values":[{"a":1}]},"mark":{"type":"point","opacity":0},"encoding":{},"view":{"fill":"#0c2674","stroke":null}},
 {"spacing":6,"vconcat":[
  {"width":1330,"height":3,"data":{"values":[{"a":1}]},"mark":{"type":"point","opacity":0},"encoding":{},"view":{"fill":"#0c2674","stroke":null}},
  {"data":{"name":"pts"},
   "bounds":"flush",
   "transform":[{"lookup":"w","from":{"data":{"name":"wells"},"key":"w","fields":["r","c","n"]}}],
   "facet":{
     "row":{"field":"r","type":"nominal","title":null,"header":{"labelAngle":0,"labelAlign":"right","labelFontSize":12,"labelColor":"#444444","labelPadding":1,"labelFont":"Liberation Sans"}},
     "column":{"field":"c","type":"ordinal","title":null,"header":{"labelFontSize":12,"labelColor":"#444444","labelPadding":10,"labelFont":"Liberation Sans"}}
   },
   "spacing":{"row":0,"column":0},
   "spec":{"width":109,"height":54.5,
    "layer":[
     {"mark":{"type":"line","strokeWidth":1.1},
      "encoding":{
       "x":{"field":"t","type":"quantitative","scale":{"domain":[-0.2,10.2],"nice":false,"zero":false},"axis":null},
       "y":{"field":"v","type":"quantitative","scale":{"domain":[-1,54],"nice":false,"zero":false},"axis":null},
       "color":{"field":"w","type":"nominal","legend":null,"scale":{
        "domain":["A1","A2","A3","A4","A5","A6","A7","A8","A9","A10","A11","A12","B1","B2","B3","B4","B5","B6","B7","B8","B9","B10","B11","B12","C1","C2","C3","C4","C5","C6","C7","C8","C9","C10","C11","C12","D1","D2","D3","D4","D5","D6","D7","D8","D9","D10","D11","D12","E1","E2","E3","E4","E5","E6","E7","E8","E9","E10","E11","E12","F1","F2","F3","F4","F5","F6","F7","F8","F9","F10","F11","F12","G1","G2","G3","G4","G5","G6","G7","G8","G9","G10","G11","G12","H1","H2","H3","H4","H5","H6","H7","H8","H9","H10","H11","H12"],
        "range":["#77dd66","#99aaaa","#8899ee","#5555ee","#ddaabb","#ee8899","#ee9966","#99cc99","#55dd77","#33bb88","#7766dd","#7766cc",
                 "#66d455","#8a9c9c","#7788dd","#4444dd","#cc99aa","#ee5577","#ee7744","#88bb88","#44cc66","#33aa77","#6655cc","#6655bb",
                 "#55cc44","#7a8e90","#5a6ccc","#3333cc","#bb7799","#dd4466","#dd6644","#66aa77","#33bb66","#339977","#5555bb","#5544aa",
                 "#44bb44","#6a8080","#4a5cbb","#3333bb","#995577","#bb3355","#cc5533","#449966","#33aa55","#338866","#5544aa","#554499",
                 "#44aa44","#5a7070","#4455aa","#3333aa","#bb6677","#aa3344","#aa4433","#448855","#339955","#337766","#444499","#444488",
                 "#449944","#556666","#44509a","#33339a","#885566","#aa3344","#994433","#447755","#338855","#336655","#444488","#444477",
                 "#447744","#555a60","#3a4488","#333388","#775566","#883344","#884433","#446655","#337744","#335555","#443377","#444466",
                 "#445544","#4a4a55","#3a3a66","#333366","#554455","#553344","#554444","#444a4a","#444a4a","#444a4a","#444455","#444455"]}}
      }},
     {"transform":[{"filter":"datum.t==0"}],
      "mark":{"type":"text","align":"left","baseline":"top","dx":3,"fontSize":9,"color":"#333333","font":"Liberation Sans"},
      "encoding":{"x":{"field":"t","type":"quantitative"},"y":{"datum":51},"text":{"field":"n"}}}
    ]}
  }
 ]}
]
}
